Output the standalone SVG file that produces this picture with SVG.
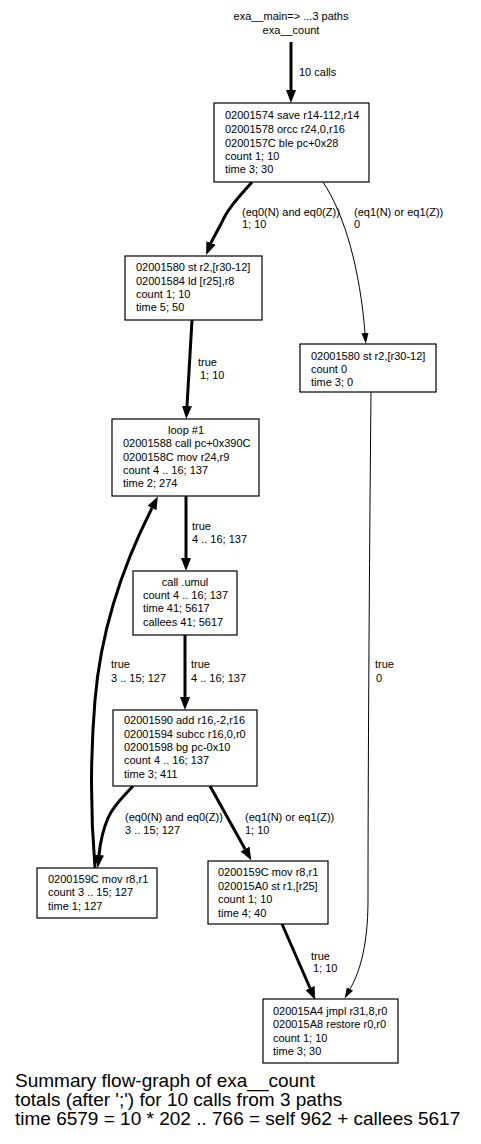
<svg xmlns="http://www.w3.org/2000/svg" width="481" height="1144" viewBox="0 0 481 1144">
<style>
text{font-family:"Liberation Sans",Arial,sans-serif;font-size:11px;fill:#000}
.cap{font-size:19px}
.mid{text-anchor:middle}
rect{fill:#fff;stroke:#000;stroke-width:1.2}
.thick{fill:none;stroke:#000;stroke-width:3}
.thin{fill:none;stroke:#000;stroke-width:1}
</style>
<defs>
<marker id="ah" markerUnits="userSpaceOnUse" markerWidth="14" markerHeight="11" refX="0" refY="5.5" orient="auto"><path d="M0,0.5 L13,5.5 L0,10.5 z" fill="#000"/></marker>
<marker id="at" markerUnits="userSpaceOnUse" markerWidth="12" markerHeight="8" refX="0" refY="4" orient="auto"><path d="M0,0.5 L11,4 L0,7.5 z" fill="#000"/></marker>
</defs>
<rect x="0" y="0" width="481" height="1144" style="stroke:none;fill:#fff"/>
<g id="title">
<text class="mid" x="291" y="20">exa__main=&gt; ...3 paths</text>
<text class="mid" x="291" y="34">exa__count</text>
</g>
<g id="connectors">
<path class="thick" d="M291,42 L291,90" marker-end="url(#ah)"/>
<path class="thick" d="M252,182 C240,196 228,208 222,222 C217,232 213,238 211,243" marker-end="url(#ah)"/>
<path class="thin" d="M323,182 C345,215 360,270 365,333" marker-end="url(#at)"/>
<path class="thick" d="M192,320 L187,406" marker-end="url(#ah)"/>
<path class="thick" d="M186,496 L186,558" marker-end="url(#ah)"/>
<path class="thick" d="M185,635 L185,697" marker-end="url(#ah)"/>
<path class="thick" d="M133,786 C124,796 113,806 108,818 C102,832 100,845 99,855" marker-end="url(#ah)"/>
<path class="thick" d="M210,786 L245,849" marker-end="url(#ah)"/>
<path class="thick" d="M282,924 L310,988" marker-end="url(#ah)"/>
<path class="thin" d="M371,392 C369,600 368,800 368,900 C368,950 358,975 350,989" marker-end="url(#at)"/>
<path class="thick" d="M95,868 C91,820 90,760 95,700 C100,640 118,575 152,508" marker-end="url(#ah)"/>
<text x="299" y="76">10 calls</text>
<text x="242" y="216">(eq0(N) and eq0(Z))</text>
<text x="242" y="228">1; 10</text>
<text x="354" y="216">(eq1(N) or eq1(Z))</text>
<text x="354" y="228">0</text>
<text x="198" y="366">true</text>
<text x="200" y="379">1; 10</text>
<text x="192" y="530">true</text>
<text x="192" y="543">4 .. 16; 137</text>
<text x="111" y="668">true</text>
<text x="111" y="682">3 .. 15; 127</text>
<text x="191" y="668">true</text>
<text x="191" y="682">4 .. 16; 137</text>
<text x="125" y="821">(eq0(N) and eq0(Z))</text>
<text x="125" y="834">3 .. 15; 127</text>
<text x="245" y="821">(eq1(N) or eq1(Z))</text>
<text x="245" y="834">1; 10</text>
<text x="311" y="960">true</text>
<text x="313" y="972">1; 10</text>
<text x="375" y="668">true</text>
<text x="376" y="682">0</text>
</g>
<g id="n1">
<rect x="214" y="103" width="155" height="79"/>
<text x="225" y="119">02001574 save r14-112,r14</text>
<text x="225" y="133">02001578 orcc r24,0,r16</text>
<text x="225" y="147">0200157C ble pc+0x28</text>
<text x="225" y="160">count 1; 10</text>
<text x="225" y="173">time 3; 30</text>
</g>
<g id="n2">
<rect x="125" y="256" width="137" height="64"/>
<text x="136" y="271">02001580 st r2,[r30-12]</text>
<text x="136" y="285">02001584 ld [r25],r8</text>
<text x="136" y="298">count 1; 10</text>
<text x="136" y="311">time 5; 50</text>
</g>
<g id="n3">
<rect x="300" y="344" width="136" height="48"/>
<text x="311" y="360">02001580 st r2,[r30-12]</text>
<text x="311" y="373">count 0</text>
<text x="311" y="386">time 3; 0</text>
</g>
<g id="loop">
<rect x="112" y="419" width="147" height="77"/>
<text class="mid" x="186" y="434">loop #1</text>
<text x="123" y="447">02001588 call pc+0x390C</text>
<text x="123" y="461">0200158C mov r24,r9</text>
<text x="123" y="474">count 4 .. 16; 137</text>
<text x="123" y="487">time 2; 274</text>
</g>
<g id="umul">
<rect x="133" y="571" width="104" height="64"/>
<text class="mid" x="185" y="586">call .umul</text>
<text x="143" y="599">count 4 .. 16; 137</text>
<text x="143" y="612">time 41; 5617</text>
<text x="143" y="626">callees 41; 5617</text>
</g>
<g id="add">
<rect x="113" y="710" width="144" height="76"/>
<text x="124" y="724">02001590 add r16,-2,r16</text>
<text x="124" y="738">02001594 subcc r16,0,r0</text>
<text x="124" y="751">02001598 bg pc-0x10</text>
<text x="124" y="764">count 4 .. 16; 137</text>
<text x="124" y="778">time 3; 411</text>
</g>
<g id="left">
<rect x="37" y="868" width="120" height="50"/>
<text x="48" y="883">0200159C mov r8,r1</text>
<text x="48" y="896">count 3 .. 15; 127</text>
<text x="48" y="910">time 1; 127</text>
</g>
<g id="right">
<rect x="208" y="861" width="120" height="63"/>
<text x="218" y="876">0200159C mov r8,r1</text>
<text x="218" y="890">020015A0 st r1,[r25]</text>
<text x="218" y="903">count 1; 10</text>
<text x="218" y="917">time 4; 40</text>
</g>
<g id="final">
<rect x="263" y="999" width="135" height="64"/>
<text x="273" y="1015">020015A4 jmpl r31,8,r0</text>
<text x="273" y="1028">020015A8 restore r0,r0</text>
<text x="273" y="1042">count 1; 10</text>
<text x="273" y="1055">time 3; 30</text>
</g>
<g id="caption">
<text class="cap" x="15" y="1087">Summary flow-graph of exa__count</text>
<text class="cap" x="15" y="1106">totals (after ';') for 10 calls from 3 paths</text>
<text class="cap" x="15" y="1125">time 6579 = 10 * 202 .. 766 = self 962 + callees 5617</text>
</g>
</svg>
